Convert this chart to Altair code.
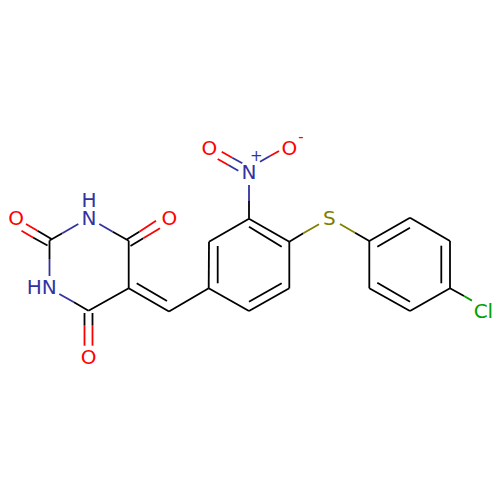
import altair as alt
import pandas as pd

BLACK, RED, BLUE, OLIVE, GREEN = "#000000", "#ff0000", "#33339f", "#7f7f00", "#00a000"

black_bonds = [
    (49.5,240.5,62.3,233.3),(112.7,231.7,128.7,240.7),(49.5,240.5,49.5,259),(74,302.3,88.5,310.7),
    (128.7,240.7,128.7,288.3),(128.7,288.3,88.5,310.7),(84.5,313,84.5,325.7),(92.5,313,92.5,325.7),
    (51.5,239,37.5,230.7),(47.5,245.5,33,237.5),(126.7,239.5,139.3,231.7),(130.5,246,143.3,238.3),
    (128.7,288.3,169,311.5),(136.7,283.3,167,301),(169,311.5,208.7,288.3),
    (208.7,288.3,209,241.7),(209,241.7,249,218.7),(249,218.7,289.3,241.7),(289.3,241.7,289.3,288.3),
    (289.3,288.3,249,311),(249,311,208.7,288.3),(217.7,246,217.7,283.3),(249,226.7,281.7,246.7),
    (281.7,283.3,249,301.7),(249,218.7,249,201),(289.3,241.7,303.3,233.3),(355,232.7,369.3,241),
    (369.3,241,410,217.7),(410,217.7,450,241),(450,241,450,288.3),(450,288.3,410,311),(410,311,369.3,288.3),
    (369.3,288.3,369.3,241),(377.3,246.7,410,227.7),(441.3,245.7,441.3,283.3),(377.3,282.7,410,301.7),
    (450,288.3,464,296),
]
red_bonds = [
    (84.5,325.7,84.5,345.7),(92.5,325.7,92.5,345.7),(37.5,230.7,26,224),(33,237.5,21.5,230.8),
    (139.3,231.7,156,220.7),(143.3,238.3,160,228.3),(221.7,151.7,232.3,157.7),(217.7,159,228.3,165),
    (270,156,279,151),
]
blue_bonds = [
    (62.3,233.3,78.3,224),(99.3,224,112.7,231.7),(49.5,259,49.5,276),(59.3,294,74,302.3),
    (232.3,157.7,242.3,163.3),(228.3,165,238.3,170.7),(249,201,249,185),(260,161.7,270,156),
]
olive_bonds = [(303.3,233.3,319,224.3),(340,224,355,232.7)]
green_bonds = [(464,296,472,300.6)]

label_text = ["O","H","N","O","HN","O","O","N","+","O","-","S","Cl"]
label_x = [16.2,89,89,169.4,41.7,88.5,209.3,249,256.3,289.3,301,329.3,483.4]
label_y = [219,201,219,219,288,358,149.3,173.3,156,149.3,137,219.3,312]
label_color = [RED,BLUE,BLUE,RED,BLUE,RED,RED,BLUE,BLUE,RED,RED,OLIVE,GREEN]
label_size = [20,20,20,20,20,20,20,20,15,20,15,20,20]

rows = []
for segs, col in [(black_bonds,BLACK),(red_bonds,RED),(blue_bonds,BLUE),(olive_bonds,OLIVE),(green_bonds,GREEN)]:
    for a,b,c,d in segs:
        rows.append(dict(x=a,y=b,x2=c,y2=d,c=col))
bonds = pd.DataFrame(rows)
labels = pd.DataFrame(dict(t=label_text,x=label_x,y=label_y,c=label_color,s=label_size))

sx = alt.Scale(domain=[8,492], range=[0,484], nice=False, zero=False)
sy = alt.Scale(domain=[8,492], range=[0,484], nice=False, zero=False)

lines = alt.Chart(bonds).mark_rule(strokeWidth=1.8).encode(
    x=alt.X("x:Q", scale=sx, axis=None), y=alt.Y("y:Q", scale=sy, axis=None),
    x2="x2:Q", y2="y2:Q", color=alt.Color("c:N", scale=None))
text = alt.Chart(labels).mark_text(font="DejaVu Sans", align="center", baseline="middle").encode(
    x=alt.X("x:Q", scale=sx, axis=None), y=alt.Y("y:Q", scale=sy, axis=None),
    text="t:N", color=alt.Color("c:N", scale=None), size=alt.Size("s:Q", scale=None, legend=None))

chart = (lines + text).properties(width=484, height=484, padding=0,
    autosize=alt.AutoSizeParams(type="none"), background="#ffffff").configure_view(stroke=None)
chart.save("out.html", embed_options={"renderer": "svg", "actions": False})
